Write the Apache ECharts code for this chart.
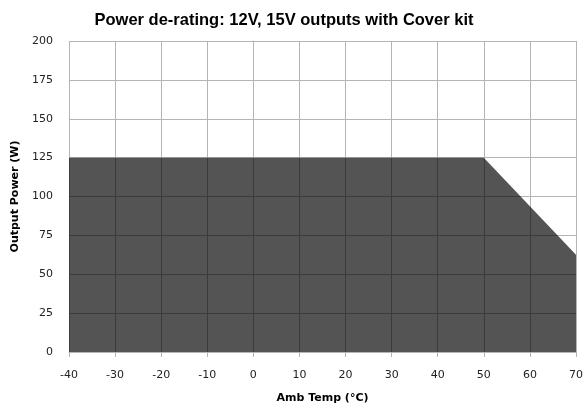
<!DOCTYPE html>
<html><head><meta charset="utf-8">
<script src="https://cdn.jsdelivr.net/npm/echarts@6/dist/echarts.min.js"></script>
<style>html,body{margin:0;padding:0;background:#fff}#c{width:587px;height:409px}</style>
</head><body><div id="c"></div>
<script>
const temps = [-40, 50, 70];
const power = [125, 125, 62.5];
const title = 'Power de-rating: 12V, 15V outputs with Cover kit';
const xName = 'Amb Temp (°C)';
const yName = 'Output Power (W)';
const chart = echarts.init(document.getElementById('c'));
chart.setOption({
  animation: false,
  title: { text: title, left: 279, top: 7, textAlign: 'center',
    textStyle: { fontFamily: 'Liberation Sans', fontWeight: 'bold', fontSize: 16.5, color: '#000' } },
  grid: { left: 69, right: 11, top: 41, bottom: 57 },
  xAxis: { type: 'value', min: -40, max: 70, interval: 10,
    name: xName, nameLocation: 'middle', nameGap: 41,
    nameTextStyle: { fontFamily: 'DejaVu Sans', fontWeight: 'bold', fontSize: 11, color: '#000' },
    axisLine: { show: true, lineStyle: { color: '#b4b4b4' } },
    axisTick: { show: true, length: 5, lineStyle: { color: '#b4b4b4' } },
    axisLabel: { fontFamily: 'DejaVu Sans', fontSize: 11, color: '#222', margin: 18 },
    splitLine: { show: true, lineStyle: { color: '#b4b4b4' } } },
  yAxis: { type: 'value', min: 0, max: 200, interval: 25,
    name: yName, nameLocation: 'middle', nameGap: 45,
    nameTextStyle: { fontFamily: 'DejaVu Sans', fontWeight: 'bold', fontSize: 11, color: '#000' },
    axisLine: { show: true, lineStyle: { color: '#b4b4b4' } },
    axisTick: { show: true, length: 5, lineStyle: { color: '#b4b4b4' } },
    axisLabel: { fontFamily: 'DejaVu Sans', fontSize: 11, color: '#222', margin: 16 },
    splitLine: { show: true, lineStyle: { color: '#b4b4b4' } } },
  series: [{ type: 'line', data: temps.map((t, i) => [t, power[i]]),
    symbol: 'none', lineStyle: { width: 0 },
    areaStyle: { color: 'rgba(0,0,0,0.67)', opacity: 1 }, z: 3 }]
});
</script></body></html>
